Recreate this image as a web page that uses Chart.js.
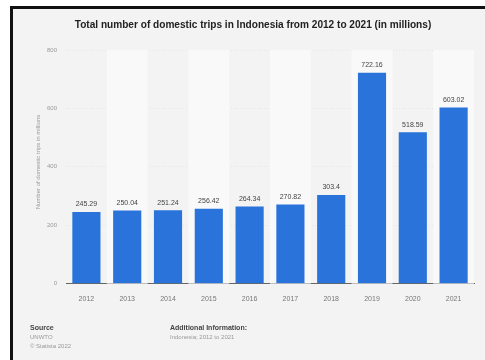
<!DOCTYPE html>
<html><head><meta charset="utf-8">
<script src="https://cdn.jsdelivr.net/npm/chart.js@4/dist/chart.umd.min.js"></script>
<style>
html,body{margin:0;padding:0;background:#fff;width:485px;height:360px;overflow:hidden;font-family:"Liberation Sans",Arial,sans-serif;}
#frame{position:absolute;left:10px;top:6px;width:472px;height:351px;border-left:3px solid #111;border-top:3px solid #111;background:#f3f3f3;}
#c{position:absolute;left:0;top:0;}
.ft{position:absolute;font-size:6px;color:#999;line-height:9px;}
.ft b{color:#444;font-weight:bold;font-size:7px;}
#title{position:absolute;left:40px;width:400px;top:10px;text-align:center;font-size:10.1px;font-weight:bold;color:#222;white-space:nowrap;}
#ytitle{position:absolute;left:25px;top:153px;width:0;height:0;}
#ytitle span{position:absolute;left:0;top:0;transform:translate(-50%,-50%) rotate(-90deg);white-space:nowrap;font-size:6px;color:#999;}
</style></head>
<body>
<div id="frame">
<canvas id="c" width="472" height="351"></canvas>
<div id="title">Total number of domestic trips in Indonesia from 2012 to 2021 (in millions)</div>
<div id="ytitle"><span>Number of domestic trips in millions</span></div>
<div class="ft" style="left:17px;top:314px;"><b>Source</b><br>UNWTO<br>© Statista 2022</div>
<div class="ft" style="left:157px;top:314px;"><b>Additional Information:</b><br>Indonesia; 2012 to 2021</div>
</div>
<script>
const categories = ["2012","2013","2014","2015","2016","2017","2018","2019","2020","2021"];
const trips = [245.29, 250.04, 251.24, 256.42, 264.34, 270.82, 303.4, 722.16, 518.59, 603.02];
const valueLabels = ["245.29","250.04","251.24","256.42","264.34","270.82","303.4","722.16","518.59","603.02"];
const yTicks = [0, 200, 400, 600, 800];

const bandPlugin = {
  id: 'bands',
  beforeDatasetsDraw(chart) {
    const {ctx, chartArea, scales} = chart;
    const x = scales.x;
    ctx.save();
    ctx.fillStyle = '#f9f9f9';
    categories.forEach((c, i) => {
      if (i % 2 === 1) {
        const cx = x.getPixelForValue(i);
        const w = x.width / categories.length;
        ctx.fillRect(cx - w/2, chartArea.top, w, chartArea.bottom - chartArea.top);
      }
    });
    ctx.restore();
  }
};
const labelPlugin = {
  id: 'vlabels',
  afterDatasetsDraw(chart) {
    const {ctx} = chart;
    const meta = chart.getDatasetMeta(0);
    ctx.save();
    ctx.font = '7px "Liberation Sans", Arial, sans-serif';
    ctx.fillStyle = '#444';
    ctx.textAlign = 'center';
    ctx.textBaseline = 'bottom';
    meta.data.forEach((bar, i) => {
      ctx.fillText(valueLabels[i], bar.x, bar.y - 4);
    });
    ctx.restore();
  }
};

new Chart(document.getElementById('c'), {
  type: 'bar',
  data: {
    labels: categories,
    datasets: [{
      data: trips,
      backgroundColor: '#2a73db',
      barPercentage: 0.69,
      categoryPercentage: 1.0
    }]
  },
  options: {
    responsive: false,
    animation: false,
    layout: {padding: {left: 25, right: 11, top: 41, bottom: 54}},
    plugins: {
      legend: {display: false},
      tooltip: {enabled: false},
      title: {display: false}
    },
    scales: {
      x: {
        grid: {display: false},
        border: {color: '#666', width: 1},
        ticks: {color: '#777', font: {size: 7, family: '"Liberation Sans", Arial, sans-serif'}, padding: 3}
      },
      y: {
        min: 0, max: 800,
        afterBuildTicks(axis) { axis.ticks = yTicks.map(v => ({value: v})); },
        grid: {color: '#dcdcdc', drawTicks: false, lineWidth: 0.6},
        border: {display: false, dash: [1, 2]},
        ticks: {color: '#999', font: {size: 6, family: '"Liberation Sans", Arial, sans-serif'}, padding: 9}
      }
    }
  },
  plugins: [bandPlugin, labelPlugin]
});
</script>
</body></html>
